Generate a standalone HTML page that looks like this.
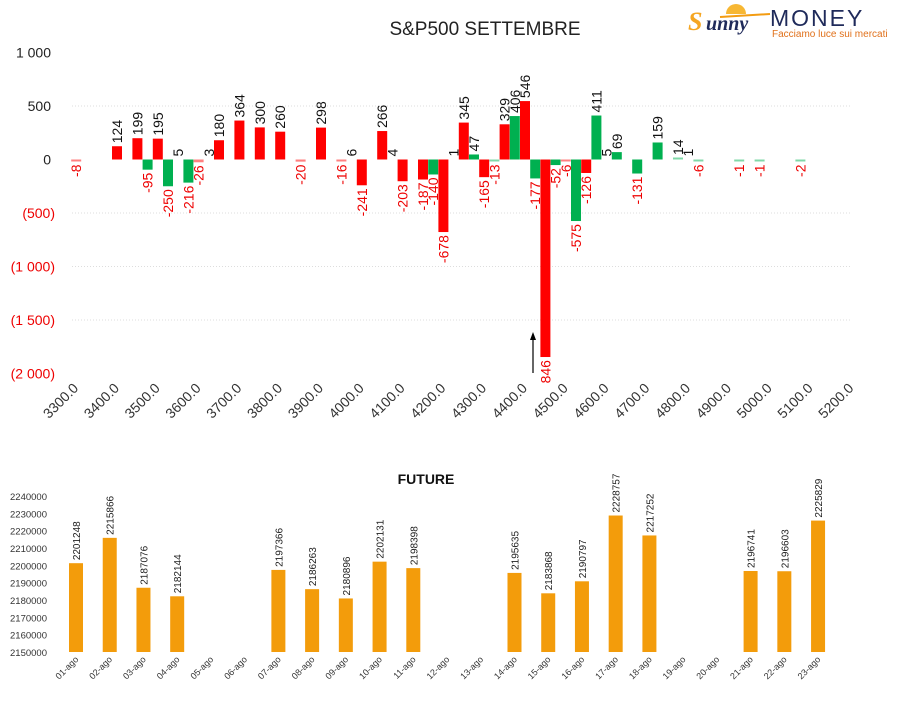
<!DOCTYPE html>
<html><head><meta charset="utf-8">
<style>
html,body{margin:0;padding:0;background:#fff;}
svg{display:block;font-family:"Liberation Sans",sans-serif;}
</style></head>
<body>
<svg id="s" width="901" height="702" viewBox="0 0 901 702" xmlns="http://www.w3.org/2000/svg">
<text x="485" y="35" text-anchor="middle" font-size="19" fill="#222">S&amp;P500 SETTEMBRE</text>
<g>
<text x="688" y="30" font-size="26" font-style="italic" font-weight="bold" fill="#f5a623" font-family="Liberation Serif,serif">S</text>
<text x="706" y="30" font-size="20" font-style="italic" font-weight="bold" fill="#1f2a5a" font-family="Liberation Serif,serif">unny</text>
<path d="M726 14 A10 10 0 0 1 746 14 Z" fill="#f7b733"/>
<line x1="720" y1="17" x2="770" y2="14" stroke="#f39c12" stroke-width="2"/>
<text x="770" y="26" font-size="23" fill="#1f2a5a" letter-spacing="2">MONEY</text>
<text x="772" y="37" font-size="10" fill="#e0701a">Facciamo luce sui mercati</text>
</g>
<g id="gtop"></g>
<g id="gbot"></g>
</svg>
<script>
(function(){
var NS="http://www.w3.org/2000/svg";
function el(p,t,a,txt){var e=document.createElementNS(NS,t);for(var k in a)e.setAttribute(k,a[k]);if(txt!==undefined)e.textContent=txt;p.appendChild(e);return e;}
var gT=document.getElementById('gtop'),gB=document.getElementById('gbot');
var Y0=159.5,SC=53.5/500;
function yv(v){return Y0-v*SC;}
function xs(s){return 117+(s-3400)*0.408;}
[500,-500,-1000,-1500].forEach(function(v){el(gT,'line',{x1:72,x2:850,y1:yv(v),y2:yv(v),stroke:'#ddd','stroke-width':1,'stroke-dasharray':'1,2'});});
var yl=[[1000,'1 000','#222'],[500,'500','#222'],[0,'0','#222'],[-500,'(500)','#e00'],[-1000,'(1 000)','#e00'],[-1500,'(1 500)','#e00'],[-2000,'(2 000)','#e00']];
yl.forEach(function(a){el(gT,'text',{x:a[0]>=0?51:55,y:yv(a[0])+5,'text-anchor':'end','font-size':14,fill:a[2]},a[1]);});
var R='#ff0000',G='#00b050';
var d=[[3300,-8,R],[3400,124,R],[3450,199,R],[3475,-95,G],[3500,195,R],[3525,-250,G],[3550,5,null],[3575,-216,G],[3600,-26,R],[3625,3,null],[3650,180,R],[3700,364,R],[3750,300,R],[3800,260,R],[3850,-20,R],[3900,298,R],[3950,-16,R],[3975,6,null],[4000,-241,R],[4050,266,R],[4075,4,null],[4100,-203,R],[4150,-187,R],[4175,-140,G],[4200,-678,R],[4225,1,null],[4250,345,R],[4275,47,G],[4300,-165,R],[4325,-13,G],[4350,329,R],[4375,406,G],[4400,546,R],[4425,-177,G],[4450,-1846,R],[4475,-52,G],[4500,-6,R],[4525,-575,G],[4550,-126,R],[4575,411,G],[4600,5,null],[4625,69,G],[4675,-131,G],[4725,159,G],[4775,14,G],[4800,1,null],[4825,-6,G],[4925,-1,G],[4975,-1,G],[5075,-2,G]];
d.forEach(function(a){
 var cx=xs(a[0]),v=a[1],c=a[2];
 if(c){
  var h=Math.abs(v)*SC,light=Math.abs(v)<30;
  if(h<2)h=2;
  var y=v>=0?Y0-h:Y0;
  el(gT,'rect',{x:cx-5,y:y,width:10,height:h,fill:light?(c==R?'#ff8080':'#80d8a8'):c});
 }
 var tx=cx+5;
 if(v>=0){
  var yt=c?Y0-v*SC-3:Y0-3;
  el(gT,'text',{x:tx,y:yt,transform:'rotate(-90 '+tx+' '+yt+')','font-size':14,fill:'#111'},String(v));
 } else {
  var yb=Y0+Math.max(Math.abs(v)*SC,2)+3;
  var s=String(v);
  if(v==-1846){s='846';}
  el(gT,'text',{x:tx,y:yb,transform:'rotate(-90 '+tx+' '+yb+')','text-anchor':'end','font-size':14,fill:'#e00'},s);
 }
});
el(gT,'line',{x1:533,y1:373,x2:533,y2:338,stroke:'#000','stroke-width':1.2});
el(gT,'path',{d:'M530 340 L533 332 L536 340 Z',fill:'#000'});
for(var s=3300;s<=5200;s+=100){var x=xs(s)+3,y=389;el(gT,'text',{x:x,y:y,transform:'rotate(-45 '+x+' '+y+')','text-anchor':'end','font-size':14,fill:'#333'},s+'.0');}
el(gB,'text',{x:426,y:484,'text-anchor':'middle','font-size':14,'font-weight':'bold',fill:'#111'},'FUTURE');
var B0=652,BS=17.33/10000;
for(var v=2150000;v<=2240000;v+=10000){el(gB,'text',{x:10,y:B0-(v-2150000)*BS+4,'font-size':9.5,fill:'#333'},String(v));}
var fv=[2201248,2215866,2187076,2182144,null,null,2197366,2186263,2180896,2202131,2198398,null,null,2195635,2183868,2190797,2228757,2217252,null,null,2196741,2196603,2225829];
fv.forEach(function(v,i){
 var cx=76+i*33.73;
 if(v){var h=(v-2150000)*BS;el(gB,'rect',{x:cx-7,y:B0-h,width:14,height:h,fill:'#f39c0b'});
  var tx=cx+4,ty=B0-h-3;el(gB,'text',{x:tx,y:ty,transform:'rotate(-90 '+tx+' '+ty+')','font-size':10,fill:'#222'},String(v));}
 var lx=cx+3,ly=660;var lab=(i+1<10?'0':'')+(i+1)+'-ago';
 el(gB,'text',{x:lx,y:ly,transform:'rotate(-45 '+lx+' '+ly+')','text-anchor':'end','font-size':9,fill:'#333'},lab);
});
})();
</script>
</body></html>
